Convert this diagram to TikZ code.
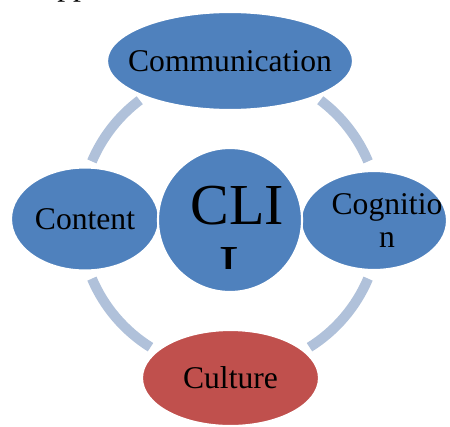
\documentclass[tikz,border=0pt]{standalone}
\usepackage{fontspec}
\setmainfont{Liberation Serif}
\usetikzlibrary{shapes.geometric}
\definecolor{bubble}{RGB}{79,129,189}
\definecolor{redbubble}{RGB}{192,80,77}
\definecolor{ringblue}{RGB}{176,193,218}
\tikzset{
 bub/.style={ellipse,fill=bubble,draw=white,line width=1.2pt,inner sep=0pt},
 lbl/.style={font=\fontsize{18}{19}\selectfont,align=center,inner sep=0pt},
 ring/.style={ringblue,line width=2mm}
}
\begin{document}
\begin{tikzpicture}[x=0.2mm,y=0.2mm]
\useasboundingbox (0,0) rectangle (450,426);
\clip (0,0) rectangle (450,426);
\coordinate (O) at (230,206);
% ring between the bubbles
\draw[ring] (O) ++(23:150) arc (23:53:150);
\draw[ring] (O) ++(127:150) arc (127:157:150);
\draw[ring] (O) ++(203:150) arc (203:238:150);
\draw[ring] (O) ++(302:150) arc (302:337:150);
% bubbles
\node[bub,minimum width=4.92cm,minimum height=1.96cm] (comm) at (230,365) {};
\node[bub,minimum width=2.96cm,minimum height=2.06cm] (content) at (85,207) {};
\node[bub,minimum width=2.92cm,minimum height=1.98cm] (cogn) at (374,205.5) {};
\node[bub,fill=redbubble,minimum width=3.54cm,minimum height=1.92cm] (cult) at (230.5,48) {};
\node[bub,circle,minimum size=2.88cm] (cli) at (230,206) {};
% texts
\node[lbl] (commText) at (comm) {Communication};
\node[lbl] (contentText) at (content) {Content};
\node[lbl,xshift=0.26cm] (cognText) at (cogn) {Cognitio\\n};
\node[lbl] (cultText) at (cult) {Culture};
\node[lbl,anchor=base west] (ppText) at (57,430) {pp};
\begin{scope}
\clip (150,158) rectangle (310,300);
\node[lbl,font=\fontsize{33}{34.5}\selectfont,xshift=0.15cm,yshift=-0.32cm] (cliText) at (cli) {CLI\\L};
\end{scope}
\end{tikzpicture}
\end{document}
